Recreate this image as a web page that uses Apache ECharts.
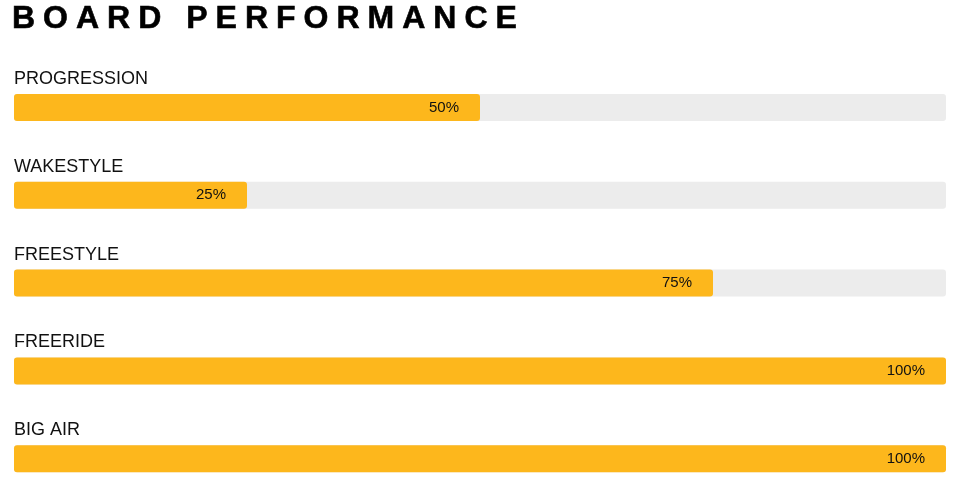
<!DOCTYPE html>
<html>
<head>
<meta charset="utf-8">
<script src="https://cdn.jsdelivr.net/npm/echarts@6/dist/echarts.min.js"></script>
<style>
html,body{margin:0;padding:0;background:#fff;overflow:hidden;}
#wrap{position:relative;width:957px;height:484px;overflow:hidden;}
#chart{position:absolute;left:0;top:0;width:957px;height:540px;}
#title{position:absolute;left:12px;top:1px;font-family:"Liberation Sans",Arial,sans-serif;font-weight:bold;font-size:32px;line-height:32px;letter-spacing:8px;color:#000;white-space:nowrap;z-index:2;-webkit-text-stroke:0.6px #000;}
</style>
</head>
<body>
<div id="wrap">
<div id="chart"></div>
<div id="title">BOARD PERFORMANCE</div>
</div>
<script>
const categories = ["PROGRESSION", "WAKESTYLE", "FREESTYLE", "FREERIDE", "BIG AIR"];
const values = [50, 25, 75, 100, 100];
const trackMax = [100, 100, 100, 100, 100];

const chart = echarts.init(document.getElementById('chart'), null, {renderer: 'canvas'});
chart.setOption({
  animation: false,
  grid: {left: 14, right: 11, top: 63.6, height: 439, containLabel: false},
  xAxis: {type: 'value', min: 0, max: 100, show: false},
  yAxis: {type: 'category', data: categories, inverse: true, show: false},
  series: [
    {
      type: 'bar',
      data: trackMax,
      barWidth: 27,
      barGap: '-100%',
      silent: true,
      itemStyle: {color: '#ececec', borderRadius: 3},
      label: {
        show: true,
        position: [0, -15],
        align: 'left',
        verticalAlign: 'middle',
        formatter: p => categories[p.dataIndex],
        fontFamily: 'Liberation Sans, Arial, sans-serif',
        fontSize: 18,
        color: '#111'
      },
      z: 1
    },
    {
      type: 'bar',
      data: values,
      barWidth: 27,
      itemStyle: {color: '#fdb71c', borderRadius: 3},
      label: {
        show: true,
        position: 'insideRight',
        distance: 21,
        formatter: '{c}%',
        fontFamily: 'Liberation Sans, Arial, sans-serif',
        fontSize: 15,
        color: '#111'
      },
      z: 2
    }
  ]
});
</script>
</body>
</html>
